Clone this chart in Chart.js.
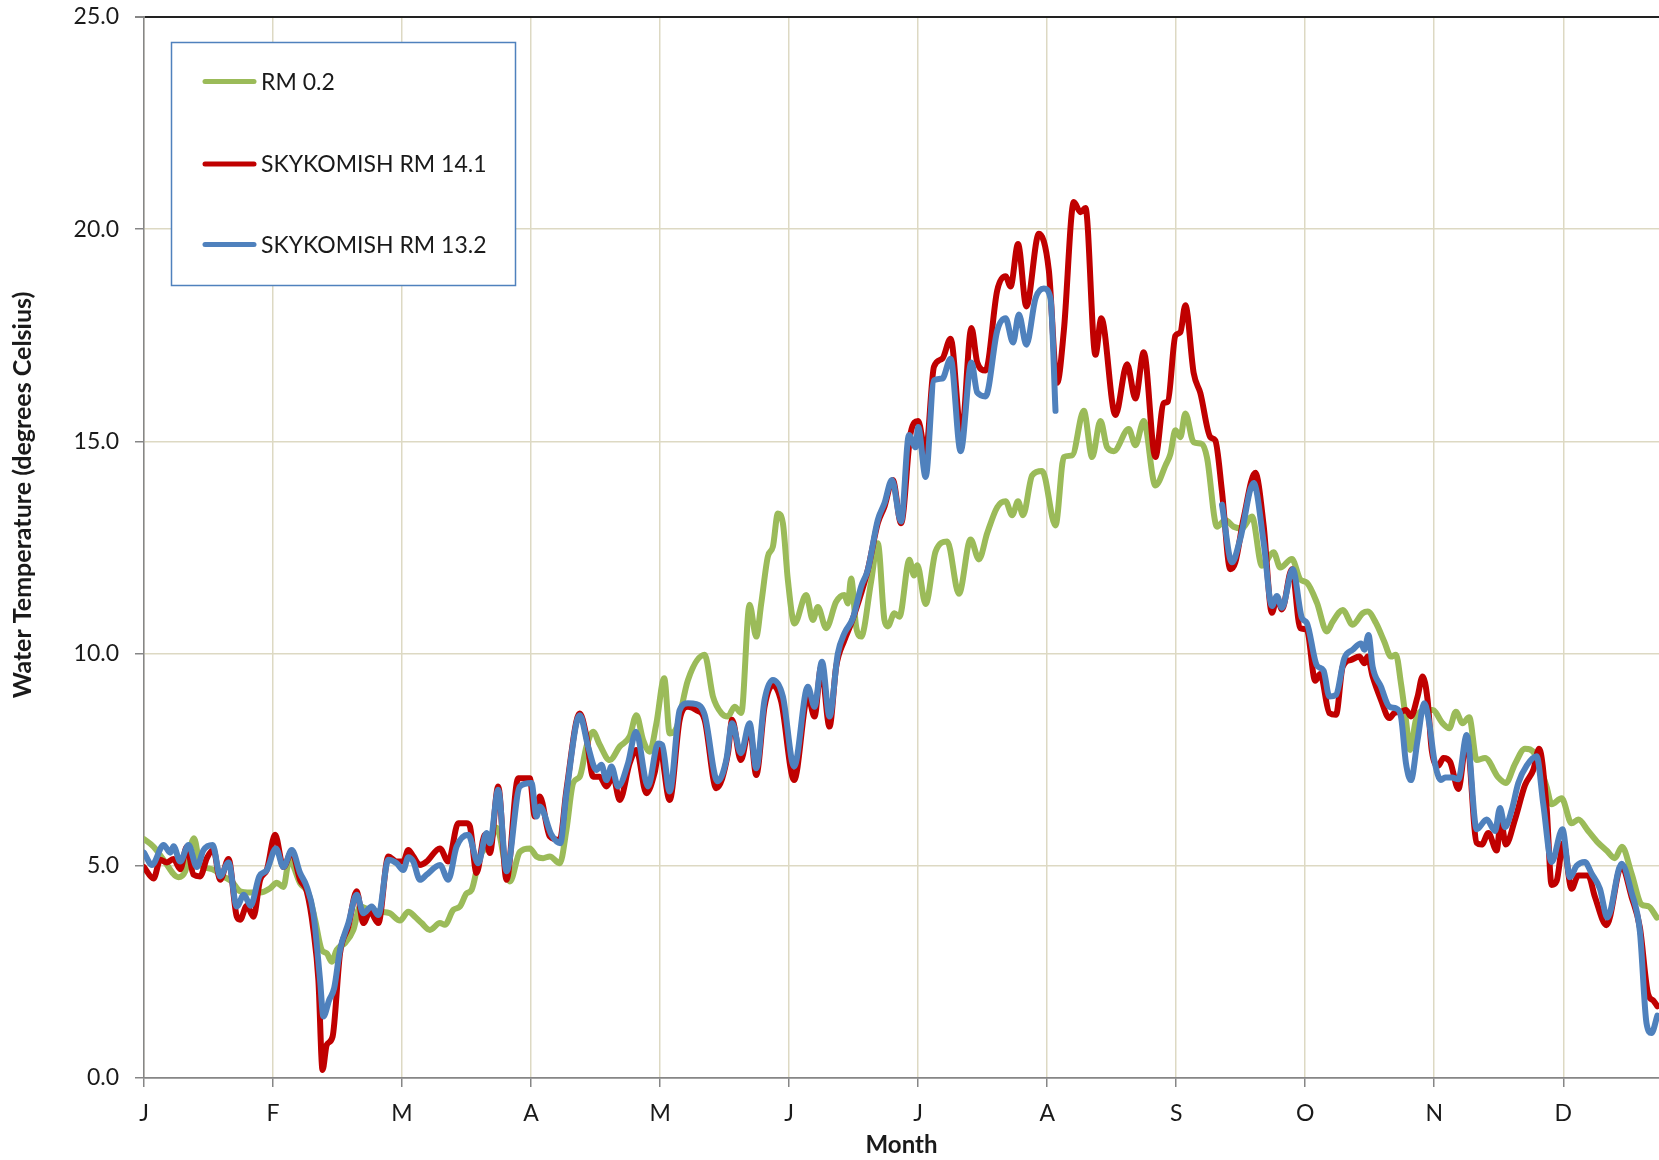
<!DOCTYPE html>
<html>
<head>
<meta charset="utf-8">
<title>Water Temperature</title>
<script src="https://cdn.jsdelivr.net/npm/chart.js@4.4.1/dist/chart.umd.min.js"></script>
<style>
  html, body { margin: 0; padding: 0; background: #fff; }
  #wrap { width: 1659px; height: 1160px; }
</style>
</head>
<body>
<div id="wrap"><canvas id="tempChart" width="1659" height="1160"></canvas></div>
<script>
// Axis labels (x axis is day of year, one gridline every 31 days)
const monthLetters = ['J', 'F', 'M', 'A', 'M', 'J', 'J', 'A', 'S', 'O', 'N', 'D'];
const monthStartDays = [0, 31, 62, 93, 124, 155, 186, 217, 248, 279, 310, 341];
const yTickValues = [0, 5, 10, 15, 20, 25];

// RM 0.2 (green)
const rm02Days = [0, 2.3, 4.7, 8.3, 9.9, 12, 13.5, 15.5, 17.1, 19.1, 21.1, 23.1, 25.5, 27.9, 30.3, 31.9, 33.5, 34.9, 37.5, 39.5,
  41.1, 42.7, 43.9, 45.1, 46.3, 48.3, 50.3, 51.9, 54.3, 56.7, 59.1, 61.5, 63.5, 65.1, 66.7, 68.7, 71.1, 72.3, 74.3, 75.9,
  77.5, 78.7, 80.7, 83.1, 84.7, 87.9, 90.3, 92.7, 94.3, 95.9, 97.5, 99.9, 101.5, 103.1, 104.7, 106.3, 107.9, 109.5, 111.9, 114.3,
  116.7, 118.3, 119.9, 121.5, 123.1, 125, 126.3, 127.9, 130.7, 134.7, 136.7, 138.7, 140.3, 141.9, 143.5, 145.5, 147.1, 148.3, 149.9, 151.1,
  152.3, 153.5, 154.7, 156.3, 159.1, 160.7, 161.9, 163.9, 166.3, 168.3, 169.1, 169.9, 171.1, 172.3, 174.7, 176.3, 177.9, 178.7, 180.3, 181.5,
  183.9, 185, 185.8, 187.8, 190.2, 193, 195.8, 198.6, 200.6, 202.6, 205, 207, 208.6, 210, 211.2, 213.4, 215.8, 219, 221, 223,
  225.8, 227.8, 229.8, 231.4, 233, 236.6, 238.2, 240.2, 243, 245.5, 246.6, 247.8, 249, 250.2, 252.2, 254.2, 255.4, 257.8, 259.8, 261.8,
  263.8, 266.2, 268.6, 271.4, 273, 275.8, 277.8, 279.4, 281.8, 284.2, 285.6, 288, 290.4, 292.8, 294, 296, 298, 299.6, 300.8, 302,
  303.2, 304.2, 305.6, 308, 309.6, 312, 313.6, 315.2, 316.8, 318.4, 320.2, 322.2, 325.4, 327.2, 329.4, 331.8, 334.2, 337, 338.2, 340.6,
  343, 344.6, 347, 349.4, 351.4, 353.4, 355.1, 357.4, 359.8, 361.4, 363.5];
const rm02Temps = [5.63, 5.45, 5.14, 4.73, 4.87, 5.65, 5.02, 4.94, 4.89, 4.75, 4.63, 4.4, 4.37, 4.37, 4.47, 4.6, 4.5, 5.14, 4.59, 4.35,
  3.73, 3.02, 2.94, 2.74, 3.02, 3.18, 3.49, 4.04, 3.96, 3.92, 3.88, 3.71, 3.92, 3.8, 3.65, 3.49, 3.65, 3.61, 3.96, 4.04,
  4.35, 4.43, 5.22, 5.53, 5.9, 4.63, 5.33, 5.41, 5.22, 5.18, 5.22, 5.06, 5.85, 6.95, 7.1, 7.81, 8.16, 7.85, 7.49, 7.81,
  8.05, 8.55, 7.97, 7.69, 8.35, 9.42, 8.12, 8.24, 9.38, 9.97, 8.99, 8.6, 8.52, 8.75, 8.6, 11.15, 10.4, 11.18, 12.29, 12.52,
  13.3, 13.07, 11.73, 10.71, 11.38, 10.79, 11.1, 10.6, 11.22, 11.38, 11.18, 11.77, 10.63, 10.4, 11.7, 12.6, 10.79, 10.64, 10.95, 10.87,
  12.21, 11.84, 12.08, 11.17, 12.41, 12.64, 11.41, 12.69, 12.22, 12.84, 13.45, 13.59, 13.26, 13.59, 13.26, 14.2, 14.3, 13.02, 14.63, 14.67,
  15.72, 14.63, 15.48, 14.86, 14.77, 15.29, 14.91, 15.48, 13.96, 14.45, 14.7, 15.26, 15.1, 15.66, 14.98, 14.94, 14.62, 12.99, 13.15, 12.99,
  12.95, 13.23, 12.07, 12.39, 12.03, 12.23, 11.75, 11.67, 11.2, 10.52, 10.75, 11.03, 10.68, 10.95, 10.99, 10.72, 10.28, 9.93, 9.97, 9.3,
  8.44, 7.73, 8.44, 8.67, 8.67, 8.36, 8.24, 8.63, 8.36, 8.5, 7.49, 7.54, 7.08, 6.95, 7.4, 7.76, 7.63, 6.86, 6.45, 6.59,
  6.0, 6.09, 5.82, 5.54, 5.36, 5.18, 5.45, 4.82, 4.09, 4.05, 3.78];

// SKYKOMISH RM 14.1 (red)
const sky141Days = [0, 2.3, 3.9, 5.5, 7.1, 8.7, 10.3, 11.9, 13.5, 15.1, 16.7, 18.3, 20.3, 22.3, 23.1, 24.7, 26.3, 27.9, 29.5, 31.5,
  33.5, 35.5, 37.5, 39.1, 40.7, 41.9, 42.9, 43.9, 45.3, 47.1, 49.1, 51.1, 52.7, 54.3, 56.3, 58.7, 60.7, 62.3, 63.5, 64.7,
  66.3, 67.9, 71.1, 73.1, 75.5, 77.5, 78.3, 79.9, 81.9, 83.1, 85.1, 87.1, 89.9, 92.7, 93.9, 95.1, 97.5, 99.9, 101.5, 104.7,
  106.3, 107.9, 109.5, 111.1, 112.7, 114.3, 116.7, 118.3, 120.7, 122.7, 123.9, 126.3, 128.7, 130.7, 132.7, 134.7, 137.5, 140.3, 141.3, 143.4,
  145.5, 147.1, 149.1, 151.1, 153.1, 156.2, 159.5, 161.1, 162.7, 164.7, 166.3, 168.3, 169.9, 172.3, 173.9, 176.3, 177.9, 179.9, 181.9, 184.2,
  186, 187.8, 189.8, 191.8, 193.8, 196.4, 198.8, 200.2, 202.2, 205, 207, 208.2, 210, 212, 215, 217.4, 219.4, 221, 223.4, 225,
  226.2, 228.6, 230, 233.4, 236.2, 238.2, 240.2, 243, 245, 246, 247.8, 249, 250.2, 252.2, 253.8, 256.2, 257.4, 259, 261, 262.2,
  264.2, 267, 269, 271, 272.2, 273.4, 275.8, 277.8, 279.4, 281.4, 282.6, 284.8, 286.4, 288, 290, 292, 293.2, 294, 295.2, 297.2,
  299.2, 300.4, 302, 303.2, 304.4, 306, 307.2, 308.4, 309.4, 311, 312.2, 313.8, 315.8, 317.8, 320.2, 321.4, 323, 325, 326, 327.2,
  329.4, 331.8, 333.8, 335.2, 337, 338.2, 339.4, 341, 343, 344.6, 347, 348.6, 351.4, 355, 357.4, 359.4, 361.4, 362.6, 363.6];
const sky141Temps = [4.97, 4.7, 5.14, 5.08, 5.16, 4.92, 5.45, 4.79, 4.75, 5.18, 5.37, 4.67, 5.16, 3.8, 3.73, 4.06, 3.8, 4.67, 4.9, 5.73,
  4.97, 5.33, 4.67, 4.4, 3.49, 2.31, 0.19, 0.78, 0.97, 2.94, 3.57, 4.4, 3.65, 3.92, 3.65, 5.22, 5.1, 5.1, 5.37, 5.22,
  5.02, 5.1, 5.41, 5.1, 6.0, 6.0, 5.93, 4.83, 5.73, 5.3, 6.87, 4.67, 7.06, 7.06, 6.16, 6.63, 5.69, 5.61, 6.79, 8.59,
  8.05, 7.1, 7.1, 6.87, 7.1, 6.55, 7.42, 7.73, 6.71, 7.2, 7.8, 6.55, 8.44, 8.75, 8.67, 8.44, 6.83, 7.65, 8.44, 7.49,
  8.28, 7.14, 8.75, 9.26, 8.87, 7.02, 8.99, 8.52, 9.69, 8.28, 9.69, 10.32, 10.71, 11.42, 11.97, 13.07, 13.46, 14.09, 13.07, 15.2,
  15.48, 14.73, 16.76, 16.95, 17.42, 15.15, 17.67, 16.86, 16.67, 18.56, 18.89, 18.65, 19.65, 18.18, 19.89, 19.03, 16.38, 17.6, 20.64, 20.4,
  20.5, 17.04, 17.9, 15.62, 16.82, 16.01, 17.1, 14.63, 15.9, 15.94, 17.49, 17.57, 18.21, 16.61, 16.14, 15.1, 15.02, 13.82, 11.99, 12.15,
  13.19, 14.26, 13.03, 10.96, 11.33, 11.04, 11.99, 10.6, 10.56, 9.36, 9.52, 8.6, 8.56, 9.69, 9.85, 9.93, 9.77, 9.93, 9.46, 8.91,
  8.48, 8.6, 8.63, 8.67, 8.52, 8.99, 9.46, 8.91, 7.72, 7.36, 7.54, 7.45, 6.81, 7.99, 5.54, 5.5, 5.77, 5.36, 6.09, 5.5,
  6.09, 6.9, 7.26, 7.76, 6.36, 4.55, 4.64, 5.54, 4.46, 4.77, 4.77, 4.27, 3.6, 5.0, 4.27, 3.55, 1.97, 1.83, 1.69];

// SKYKOMISH RM 13.2 (blue) - no record between early August and mid September
const sky132Days = [0, 1.9, 4.7, 6.3, 7.1, 8.7, 10.7, 12.7, 14.3, 16.5, 18.3, 20.3, 22.3, 24, 25.6, 27.7, 29.5, 31.7, 33.5, 35.5,
  37.5, 39.1, 40.7, 42.3, 43.1, 44.5, 45.7, 47.1, 49.1, 51.1, 52.7, 54.7, 56.3, 58.7, 60.7, 62.3, 63.5, 64.7, 66.3, 67.9,
  71.1, 73.1, 75.1, 77.9, 80.3, 82.3, 83.1, 85.1, 87.1, 90.3, 93.1, 94.3, 95.1, 97.9, 100, 101.5, 104.7, 106.7, 108.7, 109.9,
  111.1, 112.3, 113.9, 116.3, 118.2, 121.1, 123.5, 124.5, 126.3, 128.7, 130.7, 132.7, 134.7, 137.8, 139.9, 141.3, 143.4, 145.5, 147.1, 149.1,
  151.1, 153.5, 156.2, 159.5, 161.1, 162.9, 164.7, 166.7, 168.3, 170.3, 172.3, 173.9, 176.3, 177.9, 179.7, 181.9, 183.8, 185.4, 186, 187.8,
  189.8, 191.8, 193.8, 196.2, 198.8, 200.2, 202.2, 205, 207, 208.8, 210.2, 212, 214.2, 216.2, 217.8, 219, 239, 259, 261.4, 263.4,
  266.6, 269, 271, 272.2, 273.4, 276, 278.2, 279.4, 281.8, 283.4, 284.8, 286.4, 288.4, 290.4, 292.4, 293.2, 294.2, 295.2, 297.2, 299.2,
  300.8, 302, 303.2, 304.4, 306, 307.6, 308.8, 310, 311.6, 312.6, 314.2, 315.8, 317.8, 320.2, 322.6, 324.6, 325.8, 327, 328.6, 330.2,
  332.2, 334.6, 336.2, 338.2, 340.8, 342.6, 344.2, 346.2, 347.8, 349.8, 351.6, 355, 357.4, 359.4, 361, 362.2, 363.6];
const sky132Temps = [5.31, 5.02, 5.49, 5.31, 5.46, 5.1, 5.49, 4.97, 5.37, 5.49, 4.75, 5.08, 4.04, 4.32, 4.06, 4.75, 4.9, 5.41, 4.97, 5.37,
  4.83, 4.51, 3.88, 2.31, 1.45, 1.84, 2.12, 3.02, 3.65, 4.32, 3.88, 4.04, 3.84, 5.14, 5.06, 4.9, 5.2, 5.1, 4.67, 4.79,
  5.02, 4.67, 5.45, 5.73, 5.06, 5.77, 5.53, 6.79, 4.87, 6.87, 6.95, 6.16, 6.4, 5.73, 5.53, 6.71, 8.55, 7.81, 7.26, 7.38,
  7.02, 7.34, 6.87, 7.42, 8.16, 6.87, 7.88, 7.85, 6.75, 8.67, 8.83, 8.81, 8.56, 6.99, 7.49, 8.36, 7.65, 8.36, 7.3, 8.91,
  9.38, 8.99, 7.34, 9.22, 8.75, 9.81, 8.52, 10.0, 10.48, 10.83, 11.58, 11.97, 13.15, 13.54, 14.09, 13.11, 15.15, 14.86, 15.34, 14.16,
  16.44, 16.48, 16.95, 14.77, 16.86, 16.15, 16.06, 17.61, 17.9, 17.33, 17.99, 17.28, 18.37, 18.6, 18.37, 15.72, null, 13.51, 12.15, 12.71,
  14.02, 12.63, 11.12, 11.36, 11.08, 11.99, 10.84, 10.72, 9.72, 9.6, 8.99, 9.03, 9.89, 10.09, 10.24, 10.09, 10.44, 9.69, 9.22, 8.75,
  8.71, 8.52, 7.42, 7.02, 7.97, 8.83, 8.36, 7.5, 7.02, 7.08, 7.08, 7.04, 8.08, 5.86, 6.09, 5.82, 6.36, 5.91, 6.31, 6.95,
  7.36, 7.58, 6.45, 5.09, 5.86, 4.73, 5.0, 5.09, 4.82, 4.46, 3.78, 5.05, 4.37, 3.46, 1.29, 1.06, 1.47];

const toPoints = (days, temps) => days.map((d, i) => ({ x: d, y: temps[i] }));

const FONT = 'Lato, "Open Sans", sans-serif';
const TEXT = '#1a1a1a';
const GRID = '#DDD9C3';
const AXIS = '#868686';

// Legend box drawn inside the plot, plus the off-centre y axis title
const chartExtras = {
  id: 'chartExtras',
  afterDraw(chart) {
    const ctx = chart.ctx;
    ctx.save();

    ctx.fillStyle = '#fff';
    ctx.fillRect(171.5, 42.5, 344, 243);
    ctx.strokeStyle = '#4F81BD';
    ctx.lineWidth = 1.5;
    ctx.strokeRect(171.5, 42.5, 344, 243);

    const rows = [81.5, 164, 244.5];
    chart.data.datasets.forEach((ds, i) => {
      const y = rows[i];
      ctx.strokeStyle = ds.borderColor;
      ctx.lineWidth = 5;
      ctx.lineCap = 'round';
      ctx.beginPath();
      ctx.moveTo(205, y);
      ctx.lineTo(254, y);
      ctx.stroke();
      ctx.fillStyle = TEXT;
      ctx.font = '23px ' + FONT;
      ctx.textAlign = 'left';
      ctx.textBaseline = 'middle';
      ctx.fillText(ds.label, 261, y + 1);
    });

    ctx.translate(23, 495);
    ctx.rotate(-Math.PI / 2);
    ctx.font = 'bold 25px ' + FONT;
    ctx.textAlign = 'center';
    ctx.textBaseline = 'middle';
    ctx.fillStyle = TEXT;
    ctx.fillText('Water Temperature (degrees Celsius)', 0, 0);
    ctx.restore();
  }
};

new Chart(document.getElementById('tempChart'), {
  type: 'line',
  data: {
    datasets: [
      { label: 'RM 0.2', data: toPoints(rm02Days, rm02Temps), borderColor: '#9BBB59', order: 3 },
      { label: 'SKYKOMISH RM 14.1', data: toPoints(sky141Days, sky141Temps), borderColor: '#C00000', order: 2 },
      { label: 'SKYKOMISH RM 13.2', data: toPoints(sky132Days, sky132Temps), borderColor: '#4F81BD', order: 1 }
    ]
  },
  options: {
    responsive: false,
    animation: false,
    devicePixelRatio: 1,
    layout: { padding: { top: 17, right: 0, bottom: 0, left: 0 } },
    elements: {
      point: { radius: 0 },
      line: { borderWidth: 6, cubicInterpolationMode: 'monotone', borderCapStyle: 'round', borderJoinStyle: 'round' }
    },
    plugins: {
      legend: { display: false },
      tooltip: { enabled: false }
    },
    scales: {
      x: {
        type: 'linear',
        min: 0,
        max: 364,
        afterBuildTicks: (scale) => { scale.ticks = monthStartDays.map(v => ({ value: v })); },
        afterFit: (scale) => { scale.height = 82; scale.paddingLeft = 0; scale.paddingRight = 0; },
        grid: { color: GRID, lineWidth: 1.5, tickColor: AXIS, tickLength: 9 },
        border: { color: AXIS, width: 1.5 },
        ticks: {
          autoSkip: false,
          maxRotation: 0,
          padding: 13,
          color: TEXT,
          font: { family: FONT, size: 23 },
          callback: (value, index) => monthLetters[index]
        },
        title: {
          display: true,
          text: 'Month',
          color: TEXT,
          font: { family: FONT, size: 24, weight: 'bold' },
          padding: { top: 0, bottom: 0 }
        }
      },
      y: {
        min: 0,
        max: 25,
        afterBuildTicks: (scale) => { scale.ticks = yTickValues.map(v => ({ value: v })); },
        afterFit: (scale) => { scale.width = 144; scale.paddingTop = 0; scale.paddingBottom = 0; },
        grid: {
          color: (c) => c.tick && c.tick.value === 25 ? '#222' : (c.tick && c.tick.value === 0 ? AXIS : GRID),
          lineWidth: (c) => c.tick && c.tick.value === 25 ? 2 : 1.5,
          tickColor: AXIS,
          tickLength: 9
        },
        border: { color: AXIS, width: 1.5 },
        ticks: {
          padding: 16,
          color: TEXT,
          font: { family: FONT, size: 23 },
          callback: (value) => value.toFixed(1)
        }
      }
    }
  },
  plugins: [chartExtras]
});
</script>
</body>
</html>
